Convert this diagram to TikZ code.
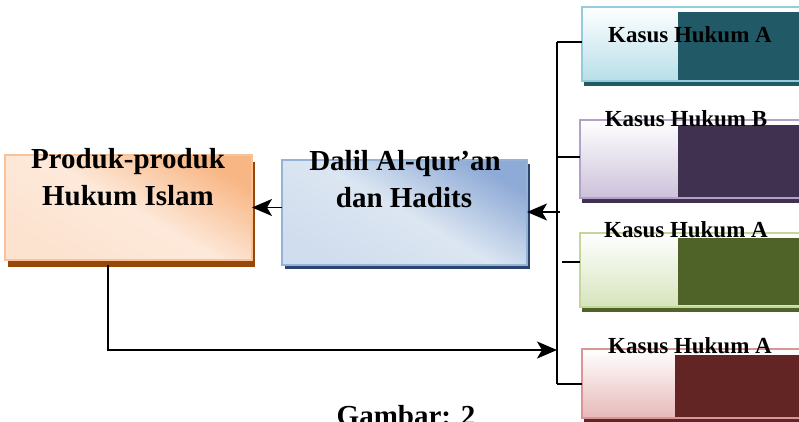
\documentclass[tikz,border=0pt]{standalone}
\usepackage{fontspec}
\setmainfont{Liberation Serif}
\usetikzlibrary{arrows.meta,shadows}
\definecolor{orA}{HTML}{F8B684}
\definecolor{orB}{HTML}{FDE9DA}
\definecolor{orBd}{HTML}{F9C29A}
\definecolor{orSh}{HTML}{984806}
\definecolor{blA}{HTML}{8EAAD6}
\definecolor{blB}{HTML}{DCE6F2}
\definecolor{blBd}{HTML}{95B3D7}
\definecolor{blSh}{HTML}{2A4570}
\definecolor{tqBd}{HTML}{93CDDD}
\definecolor{tqL}{HTML}{B7DEE8}
\definecolor{tqD}{HTML}{215967}
\definecolor{puBd}{HTML}{B3A2C7}
\definecolor{puL}{HTML}{CCC1DA}
\definecolor{puD}{HTML}{403151}
\definecolor{grBd}{HTML}{C3D69B}
\definecolor{grL}{HTML}{D7E4BD}
\definecolor{grD}{HTML}{4F6228}
\definecolor{rdBd}{HTML}{D99694}
\definecolor{rdL}{HTML}{E6B9B8}
\definecolor{rdD}{HTML}{632523}
\begin{document}
\begin{tikzpicture}[x=1pt,y=-1pt,
  bigbox/.style={rectangle,inner sep=0pt,outer sep=0pt,line width=1.5pt,anchor=north west},
  kbox/.style={rectangle,inner sep=0pt,outer sep=0pt,line width=1.5pt,anchor=north west,top color=white},
  maintxt/.style={font=\fontsize{29}{35}\selectfont\bfseries,inner sep=0pt,anchor=base},
  ktxt/.style={font=\fontsize{23}{27}\selectfont\bfseries,inner sep=0pt,anchor=base},
  conn/.style={line width=1.8pt,black},
  tipshape/.tip={Stealth[length=20pt,width=17pt,inset=5pt]},
  arr/.style={conn,-tipshape}]
\useasboundingbox (0,0) rectangle (799,421);
\clip (0,0) rectangle (799,421);
\fill[white] (0,0) rectangle (799,421);
% left box
\node[bigbox,draw=orBd,top color=orA,bottom color=orB!88!orA,middle color=orB,shading angle=-30,
  drop shadow={shadow xshift=3pt,shadow yshift=-7pt,fill=orSh,opacity=1},
  minimum width=247pt,minimum height=105pt] (produk) at (5,155) {};
% middle box
\node[bigbox,draw=blBd,top color=blA,bottom color=blB!85!blA,middle color=blB,shading angle=-30,
  drop shadow={shadow xshift=3pt,shadow yshift=-4pt,fill=blSh,opacity=1},
  minimum width=245pt,minimum height=105pt] (dalil) at (282,160) {};
% kasus boxes
\node[kbox,draw=tqBd,bottom color=tqL,drop shadow={shadow xshift=2pt,shadow yshift=-5pt,fill=tqD,opacity=1},
  minimum width=225pt,minimum height=74pt] (k1) at (582,7) {};
\fill[tqD] (678,12) rectangle (810,80);
\node[kbox,draw=puBd,bottom color=puL,drop shadow={shadow xshift=2pt,shadow yshift=-5pt,fill=puD,opacity=1},
  minimum width=227pt,minimum height=78pt] (k2) at (580,120) {};
\fill[puD] (678,125) rectangle (810,197);
\node[kbox,draw=grBd,bottom color=grL,drop shadow={shadow xshift=2pt,shadow yshift=-5pt,fill=grD,opacity=1},
  minimum width=227pt,minimum height=74pt] (k3) at (580,233) {};
\fill[grD] (678,238) rectangle (810,305);
\node[kbox,draw=rdBd,bottom color=rdL,drop shadow={shadow xshift=2pt,shadow yshift=-5pt,fill=rdD,opacity=1},
  minimum width=225pt,minimum height=69pt] (k4) at (582,349) {};
\fill[rdD] (675,355) rectangle (810,417);
% texts
\node[maintxt] (p1) at (128,168) {Produk-produk};
\node[maintxt] (p2) at (128,205) {Hukum Islam};
\node[maintxt] (d1) at (405,170) {Dalil Al-qur’an};
\node[maintxt] (d2) at (404,207) {dan Hadits};
\node[ktxt] (kt1) at (690,42) {Kasus Hukum A};
\node[ktxt] (kt2) at (686,126) {Kasus Hukum B};
\node[ktxt] (kt3) at (686,237) {Kasus Hukum A};
\node[ktxt] (kt4) at (690,353) {Kasus Hukum A};
\node[maintxt] (cap) at (406,425) {Gambar: 2};
% connectors
\coordinate (sTop) at (557,42);
\coordinate (sBot) at (557,384);
\coordinate (t3) at (562,262);
\coordinate (pStart) at (108,265);
\coordinate (aEnd) at (557,350);
\draw[conn] (sTop) -- (sBot);
\draw[conn] (sTop) -- (sTop -| k1.west);
\draw[conn] (sTop |- 0,157) -- (k2.west |- 0,157);
\draw[conn] (t3) -- (t3 -| k3.west);
\draw[conn] (sBot) -- (sBot -| k4.west);
\draw[arr] (dalil.west |- produk.east) -- (produk.east);
\draw[arr] (560,212) -- (dalil.east |- 0,212);
\draw[arr] (pStart) |- (aEnd);
\end{tikzpicture}
\end{document}
